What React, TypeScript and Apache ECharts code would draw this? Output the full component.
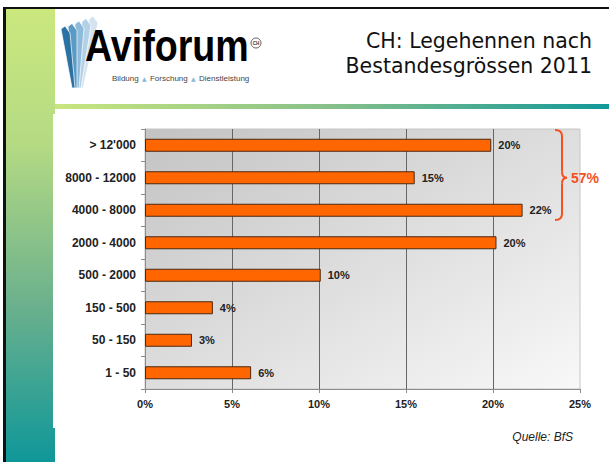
import React, { useEffect, useRef } from "react";
import * as echarts from "echarts";

const categories = ["> 12'000", "8000 - 12000", "4000 - 8000", "2000 - 4000", "500 - 2000", "150 - 500", "50 - 150", "1 - 50"];
const shares = [19.9, 15.5, 21.7, 20.2, 10.1, 3.9, 2.7, 6.1];
const shareLabels = ["20%", "15%", "22%", "20%", "10%", "4%", "3%", "6%"];
const xMin = 0;
const xMax = 25;
const xInterval = 5;
const bracketCategories = ["> 12'000", "8000 - 12000", "4000 - 8000"];
const bracketLabel = "57%";
const titleLines = ["CH: Legehennen nach", "Bestandesgrössen 2011"];
const sourceText = "Quelle: BfS";

const SANS = "Liberation Sans, Arial, sans-serif";
const ORANGE = "#f5501f";

export default function App() {
  const ref = useRef<HTMLDivElement>(null);

  useEffect(() => {
    if (!ref.current) return;
    const chart = echarts.init(ref.current, null, { renderer: "svg" });

    const featherColors = ["#d3e4f0", "#b3d1e6", "#8dbbd9", "#5b9ac5", "#2a72a4"];
    const feather: any[] = featherColors.map((c, k) => {
      const i = 4 - k;
      const tx = 61 + 7 * i;
      const ty = 29 - 2.5 * i;
      const bx = 72 + 2 * i;
      return {
        id: "fe" + k, type: "polygon", z: -50 + k,
        shape: { points: [[tx, ty], [tx + 4, ty - 3], [tx + 9, ty + 4], [bx + 3, 88], [bx, 88]] },
        style: { fill: c, stroke: "#ffffff", lineWidth: 0.7 },
      };
    });

    const bg: any[] = [
      { id: "blk-top", type: "rect", z: -100, shape: { x: 3, y: 7, width: 606, height: 2 }, style: { fill: "#111" } },
      { id: "blk-left", type: "rect", z: -100, shape: { x: 3, y: 7, width: 3, height: 455 }, style: { fill: "#111" } },
      {
        id: "strip", type: "rect", z: -100, shape: { x: 6, y: 9, width: 49, height: 453 },
        style: {
          fill: new echarts.graphic.LinearGradient(0, 0, 0, 1, [
            { offset: 0, color: "#cbe87e" },
            { offset: 0.3, color: "#b4da83" },
            { offset: 0.65, color: "#6cb18d" },
            { offset: 1, color: "#0f9799" },
          ]),
        },
      },
      {
        id: "hline", type: "rect", z: -100, shape: { x: 55, y: 104, width: 554, height: 5 },
        style: {
          fill: new echarts.graphic.LinearGradient(0, 0, 1, 0, [
            { offset: 0, color: "#c8e67e" },
            { offset: 0.5, color: "#86c08a" },
            { offset: 1, color: "#12989a" },
          ]),
        },
      },
      { id: "content", type: "rect", z: -90, shape: { x: 53, y: 114, width: 556, height: 314 }, style: { fill: "#fff" } },
      ...feather,
      {
        id: "logo", type: "text", z: 10, x: 85, y: 46, scaleX: 0.855,
        style: { text: "Aviforum", x: 0, y: 0, font: "bold 44px " + SANS, fill: "#000", align: "left", verticalAlign: "middle" },
      },
      { id: "reg", type: "circle", z: 10, shape: { cx: 256, cy: 43, r: 5 }, style: { fill: "none", stroke: "#333", lineWidth: 0.8 } },
      { id: "regt", type: "text", z: 10, style: { text: "CH", x: 256, y: 43, font: "bold 4.5px " + SANS, fill: "#333", align: "center", verticalAlign: "middle" } },
      {
        id: "tag", type: "text", z: 10,
        style: {
          text: "{w|Bildung} {t|▲} {w|Forschung} {t|▲} {w|Dienstleistung}",
          x: 112, y: 78, align: "left", verticalAlign: "middle",
          rich: {
            w: { fontSize: 8, fontFamily: SANS, fill: "#444" },
            t: { fontSize: 6, fontFamily: "DejaVu Sans", fill: "#8ab8d8" },
          },
        },
      },
      { id: "t1", type: "text", z: 10, style: { text: titleLines[0], x: 592, y: 41, font: "20.5px 'DejaVu Sans'", fill: "#111", align: "right", verticalAlign: "middle" } },
      { id: "t2", type: "text", z: 10, style: { text: titleLines[1], x: 592, y: 66, font: "20.5px 'DejaVu Sans'", fill: "#111", align: "right", verticalAlign: "middle" } },
      { id: "src", type: "text", z: 10, style: { text: sourceText, x: 573, y: 437, font: "italic 12px " + SANS, fill: "#222", align: "right", verticalAlign: "middle" } },
    ];

    chart.setOption({
      animation: false,
      backgroundColor: "#ffffff",
      grid: {
        left: 145, right: 29, top: 129, bottom: 73, show: true,
        backgroundColor: new echarts.graphic.LinearGradient(0, 0, 1, 1, [
          { offset: 0, color: "#c3c3c3" },
          { offset: 1, color: "#f8f8f8" },
        ]),
        borderColor: "#c6c6c6", borderWidth: 1,
      },
      xAxis: {
        type: "value", min: xMin, max: xMax, interval: xInterval,
        axisLine: { show: true, lineStyle: { color: "#8c8c8c" } },
        axisTick: { show: true, length: 4, lineStyle: { color: "#8c8c8c" } },
        axisLabel: { formatter: "{value}%", fontFamily: SANS, fontWeight: "bold", fontSize: 11, color: "#222", margin: 9 },
        splitLine: { show: true, showMinLine: false, showMaxLine: false, lineStyle: { color: "#666", width: 1 } },
      },
      yAxis: {
        type: "category", inverse: true, data: categories,
        axisLine: { show: true, lineStyle: { color: "#8c8c8c" } },
        axisTick: { show: true, length: 4, lineStyle: { color: "#8c8c8c" } },
        axisLabel: { fontFamily: SANS, fontWeight: "bold", fontSize: 12, color: "#222", margin: 9 },
        splitLine: { show: false },
      },
      series: [
        {
          type: "bar", data: shares, barWidth: 13,
          itemStyle: { color: "#ff6600", borderColor: "#4d2810", borderWidth: 1 },
          label: {
            show: true, position: "right", distance: 7,
            formatter: (p: any) => shareLabels[p.dataIndex],
            fontFamily: SANS, fontWeight: "bold", fontSize: 11, color: "#222",
          },
        },
      ],
      graphic: { elements: bg },
    });

    const yA = chart.convertToPixel({ yAxisIndex: 0 }, bracketCategories[0]) as number;
    const yB = chart.convertToPixel({ yAxisIndex: 0 }, bracketCategories[1]) as number;
    const yC = chart.convertToPixel({ yAxisIndex: 0 }, bracketCategories[2]) as number;
    const xR = chart.convertToPixel({ xAxisIndex: 0 }, xMax) as number;
    const band = yB - yA;
    const top = yA - band * 0.47;
    const bot = yC + band * 0.3;
    const tip = yB;
    const xv = xR - 18;
    const xh = xR - 25;
    const xt = xR - 13;
    const r = 6;
    const bs = { stroke: ORANGE, lineWidth: 2, fill: "none" };
    const brace: any[] = [
      { id: "b1", type: "bezierCurve", z: 20, shape: { x1: xh, y1: top, cpx1: xv, cpy1: top, x2: xv, y2: top + r }, style: bs },
      { id: "b2", type: "line", z: 20, shape: { x1: xv, y1: top + r, x2: xv, y2: tip - r }, style: bs },
      { id: "b3", type: "bezierCurve", z: 20, shape: { x1: xv, y1: tip - r, cpx1: xv, cpy1: tip, x2: xt, y2: tip }, style: bs },
      { id: "b4", type: "bezierCurve", z: 20, shape: { x1: xt, y1: tip, cpx1: xv, cpy1: tip, x2: xv, y2: tip + r }, style: bs },
      { id: "b5", type: "line", z: 20, shape: { x1: xv, y1: tip + r, x2: xv, y2: bot - r }, style: bs },
      { id: "b6", type: "bezierCurve", z: 20, shape: { x1: xv, y1: bot - r, cpx1: xv, cpy1: bot, x2: xh, y2: bot }, style: bs },
      { id: "b7", type: "text", z: 20, style: { text: bracketLabel, x: xR - 9, y: tip, font: "bold 14px " + SANS, fill: ORANGE, align: "left", verticalAlign: "middle" } },
    ];
    chart.setOption({ graphic: { elements: brace } });

    return () => chart.dispose();
  }, []);

  return <div ref={ref} style={{ position: "absolute", left: 0, top: 0, width: 609, height: 462 }} />;
}
